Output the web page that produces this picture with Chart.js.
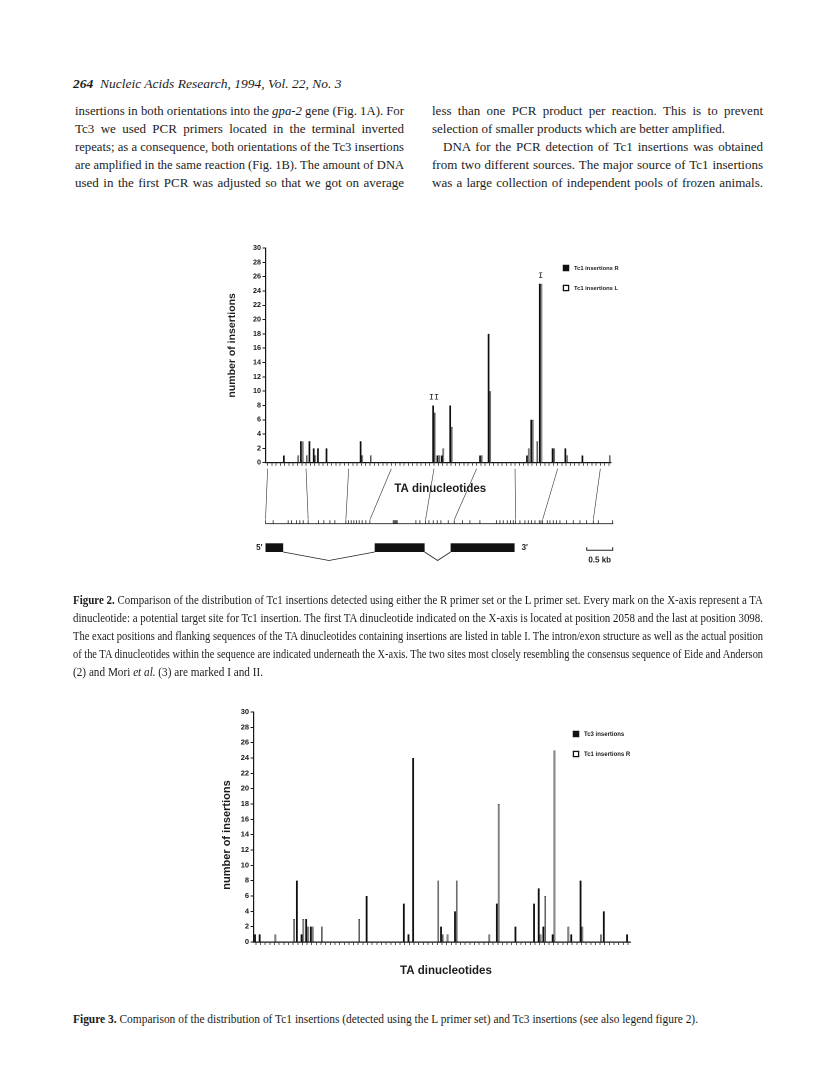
<!DOCTYPE html>
<html>
<head>
<meta charset="utf-8">
<script src="https://cdn.jsdelivr.net/npm/chart.js@4.4.1/dist/chart.umd.min.js"></script>
<style>
  html, body { margin:0; padding:0; background:#ffffff; }
  body { position:relative; width:816px; height:1070px; overflow:hidden;
         font-family:"Liberation Serif","Times New Roman",serif; color:#1b1b1b; }
  .ln { position:absolute; white-space:nowrap; line-height:18px; height:18px; transform-origin:0 50%; }
  .bt { font-size:13px; }
  .cap { font-size:12px; }
  canvas { position:absolute; }
</style>
</head>
<body>

<div class="ln" style="left:73px;top:75px;font-size:13.5px;font-style:italic;" data-w="286"><b>264</b>&nbsp; Nucleic Acids Research, 1994, Vol. 22, No. 3</div>

<div class="ln bt j" style="left:75px;top:102px;" data-w="329">insertions in both orientations into the <i>gpa-2</i> gene (Fig. 1A). For</div>
<div class="ln bt j" style="left:75px;top:120px;" data-w="329">Tc3 we used PCR primers located in the terminal inverted</div>
<div class="ln bt j" style="left:75px;top:138px;" data-w="329">repeats; as a consequence, both orientations of the Tc3 insertions</div>
<div class="ln bt j" style="left:75px;top:156px;" data-w="329">are amplified in the same reaction (Fig. 1B). The amount of DNA</div>
<div class="ln bt j" style="left:75px;top:174px;" data-w="329">used in the first PCR was adjusted so that we got on average</div>

<div class="ln bt j" style="left:432px;top:102px;" data-w="331">less than one PCR product per reaction. This is to prevent</div>
<div class="ln bt" style="left:432px;top:120px;" data-w="296">selection of smaller products which are better amplified.</div>
<div class="ln bt j" style="left:443px;top:138px;" data-w="320">DNA for the PCR detection of Tc1 insertions was obtained</div>
<div class="ln bt j" style="left:432px;top:156px;" data-w="331">from two different sources. The major source of Tc1 insertions</div>
<div class="ln bt j" style="left:432px;top:174px;" data-w="331">was a large collection of independent pools of frozen animals.</div>

<canvas id="fig2" width="440" height="420" style="left:200px;top:200px;"></canvas>

<div class="ln cap j" style="left:73px;top:591px;" data-w="690"><b>Figure 2.</b> Comparison of the distribution of Tc1 insertions detected using either the R primer set or the L primer set. Every mark on the X-axis represent a TA</div>
<div class="ln cap j" style="left:73px;top:609px;" data-w="690">dinucleotide: a potential target site for Tc1 insertion. The first TA dinucleotide indicated on the X-axis is located at position 2058 and the last at position 3098.</div>
<div class="ln cap j" style="left:73px;top:627px;" data-w="690">The exact positions and flanking sequences of the TA dinucleotides containing insertions are listed in table I. The intron/exon structure as well as the actual position</div>
<div class="ln cap j" style="left:73px;top:645px;" data-w="690">of the TA dinucleotides within the sequence are indicated underneath the X-axis. The two sites most closely resembling the consensus sequence of Eide and Anderson</div>
<div class="ln cap" style="left:73px;top:663px;" data-w="190">(2) and Mori <i>et al.</i> (3) are marked I and II.</div>

<canvas id="fig3" width="455" height="320" style="left:195px;top:670px;"></canvas>

<div class="ln cap" style="left:73px;top:1010px;" data-w="625"><b>Figure 3.</b> Comparison of the distribution of Tc1 insertions (detected using the L primer set) and Tc3 insertions (see also legend figure 2).</div>

<script>
// ---------------- data ----------------
// 81 TA dinucleotides on the X-axis (index 0..80)
const taSites = Array.from({length: 81}, (_, i) => String(i + 1));

// Figure 2 : Tc1 insertions, R primer set (black)
const fig2R_sites  = [4, 8, 10, 11, 12, 14, 22, 39, 40, 41, 43, 50, 52, 61, 62, 64, 67, 70, 74];
const fig2R_counts = [1, 3,  3,  2,  2,  2,  3,  8,  1,  1,  8,  1, 18,  1,  6, 25,  2,  2,  1];

// Figure 2 : Tc1 insertions, L primer set (white)
const fig2L_sites  = [7, 8, 9, 11, 22, 24, 39, 40, 41, 43, 50, 52, 61, 62, 63, 64, 67, 70, 80];
const fig2L_counts = [1, 3, 1,  1,  1,  1,  7,  1,  2,  5,  1, 10,  2,  6,  3, 25,  2,  1,  1];

// Figure 3 : Tc3 insertions (black)
const fig3Tc3_sites  = [0, 1, 9, 10, 11, 12, 24, 32, 33, 34, 40, 43, 52, 56, 60, 61, 62, 64, 68, 70, 75, 80];
const fig3Tc3_counts = [1, 1, 8,  1,  3,  2,  6,  5,  1, 24,  2,  4,  5,  2,  5,  7,  2,  1,  1,  8,  4,  1];

// Figure 3 : Tc1 insertions R (white)
const fig3Tc1_sites  = [4, 8, 10, 11, 12, 14, 22, 39, 40, 41, 43, 50, 52, 61, 62, 64, 67, 70, 74];
const fig3Tc1_counts = [1, 3,  3,  2,  2,  2,  3,  8,  1,  1,  8,  1, 18,  1,  6, 25,  2,  2,  1];

const yTicks = [0, 2, 4, 6, 8, 10, 12, 14, 16, 18, 20, 22, 24, 26, 28, 30];

// Sites marked I and II (consensus-like sites)
const markedSites = [{site: 64, value: 25, label: 'I'}, {site: 39, value: 8, label: 'II'}];

// Schematic below Fig. 2: TA positions along the sequence map (map units 0..1043)
const taMapUnits = [0, 23, 68, 78, 93, 103, 113, 128, 159, 175, 193, 208, 241, 249, 257, 265, 273, 281,
  290, 301, 313, 383, 386, 389, 392, 395, 451, 463, 480, 490, 503, 515, 526, 548, 566, 591, 613, 643,
  693, 703, 713, 725, 735, 743, 750, 763, 778, 788, 798, 808, 821, 826, 831, 845, 853, 863, 873, 883,
  903, 923, 943, 963, 983, 998, 1041];
// links: X-axis TA index -> map unit
const mapLinksSite = [0, 9, 19, 29, 39, 49, 58, 68, 78];
const mapLinksUnit = [0, 128, 241, 313, 480, 566, 750, 831, 983];
// exon structure in kb from gene start
const exonStartKb = [0.00, 2.10, 3.56];
const exonEndKb   = [0.34, 3.06, 4.79];

// ---------------- helpers ----------------
function toSeries(sites, counts) {
  const arr = taSites.map(() => 0);
  sites.forEach((s, i) => { arr[s] = counts[i]; });
  return arr;
}
const SANS = '"Liberation Sans", Arial, Helvetica, sans-serif';
const INK = '#1b1b1b';

function yTitle(ctx, text, x, y, size) {
  ctx.save();
  ctx.translate(x, y);
  ctx.rotate(-Math.PI / 2);
  ctx.font = 'bold ' + size + 'px ' + SANS;
  ctx.fillStyle = INK;
  ctx.textAlign = 'center';
  ctx.textBaseline = 'middle';
  ctx.fillText(text, 0, 0);
  ctx.restore();
}
function legendItem(ctx, x, y, filled, text, size) {
  const s = 6.5;
  ctx.save();
  if (filled) { ctx.fillStyle = '#111'; ctx.fillRect(x - s / 2, y - s / 2, s, s); }
  else { ctx.fillStyle = '#fff'; ctx.fillRect(x - s / 2, y - s / 2, s, s);
         ctx.strokeStyle = '#111'; ctx.lineWidth = 1.3; ctx.strokeRect(x - s / 2 + 0.65, y - s / 2 + 0.65, s - 1.3, s - 1.3); }
  ctx.font = 'bold ' + size + 'px ' + SANS;
  ctx.fillStyle = INK;
  ctx.textAlign = 'left';
  ctx.textBaseline = 'middle';
  ctx.fillText(text, x + 8, y + 0.5);
  ctx.restore();
}

const fig2Extras = {
  id: 'fig2Extras',
  afterDraw(chart) {
    const {ctx, chartArea: ca, scales: {x, y}} = chart;
    yTitle(ctx, 'number of insertions', 32, (ca.top + ca.bottom) / 2 - 10, 10.5);
    legendItem(ctx, 366, 68, true, 'Tc1 insertions R', 5.8);
    legendItem(ctx, 366, 88, false, 'Tc1 insertions L', 5.8);

    ctx.save();
    ctx.font = '8.5px "Liberation Mono", "DejaVu Sans Mono", monospace';
    ctx.fillStyle = INK; ctx.textAlign = 'center'; ctx.textBaseline = 'bottom';
    markedSites.forEach(m => ctx.fillText(m.label, x.getPixelForValue(m.site), y.getPixelForValue(m.value) - 4));
    ctx.restore();

    // TA dinucleotides title
    ctx.save();
    ctx.font = 'bold 11.5px ' + SANS; ctx.fillStyle = INK;
    ctx.textAlign = 'center'; ctx.textBaseline = 'middle';
    ctx.fillText('TA dinucleotides', (ca.left + ca.right) / 2 + 2, ca.bottom + 26);
    ctx.restore();

    // sequence map
    const mapL = ca.left, mapR = ca.right + 2.3, mapY = ca.bottom + 61;
    const mx = u => mapL + u / 1043 * (mapR - mapL);
    ctx.save();
    ctx.strokeStyle = '#222'; ctx.lineWidth = 0.9;
    ctx.beginPath(); ctx.moveTo(mapL, mapY); ctx.lineTo(mapR, mapY); ctx.stroke();
    ctx.lineWidth = 0.8;
    taMapUnits.forEach(u => { ctx.beginPath(); ctx.moveTo(mx(u), mapY); ctx.lineTo(mx(u), mapY - 3.5); ctx.stroke(); });
    ctx.lineWidth = 0.6; ctx.strokeStyle = '#333';
    mapLinksSite.forEach((s, i) => {
      ctx.beginPath();
      ctx.moveTo(x.getPixelForValue(s), ca.bottom + 6);
      ctx.lineTo(mx(mapLinksUnit[i]), mapY - 4);
      ctx.stroke();
    });
    ctx.restore();

    // exon / intron structure
    const pxPerKb = 52;
    const gx = kb => mapL + kb * pxPerKb;
    const bTop = ca.bottom + 80.6, bBot = ca.bottom + 89.3;
    ctx.save();
    ctx.fillStyle = '#111';
    exonStartKb.forEach((s, i) => ctx.fillRect(gx(s), bTop, gx(exonEndKb[i]) - gx(s), bBot - bTop));
    ctx.strokeStyle = '#222'; ctx.lineWidth = 0.8;
    for (let i = 0; i < exonStartKb.length - 1; i++) {
      const a = gx(exonEndKb[i]), b = gx(exonStartKb[i + 1]);
      ctx.beginPath(); ctx.moveTo(a, bBot); ctx.lineTo((a + b) / 2, bBot + 8.5); ctx.lineTo(b, bBot); ctx.stroke();
    }
    ctx.font = 'bold 8px ' + SANS; ctx.fillStyle = INK; ctx.textBaseline = 'middle';
    ctx.textAlign = 'right'; ctx.fillText("5'", gx(0) - 3, (bTop + bBot) / 2);
    ctx.textAlign = 'left'; ctx.fillText("3'", gx(exonEndKb[2]) + 7, (bTop + bBot) / 2);
    // 0.5 kb scale bar
    const sb0 = 386.7, sb1 = sb0 + 0.5 * pxPerKb, sbY = ca.bottom + 87.5;
    ctx.lineWidth = 1;
    ctx.beginPath(); ctx.moveTo(sb0, sbY - 3); ctx.lineTo(sb0, sbY); ctx.lineTo(sb1, sbY); ctx.lineTo(sb1, sbY - 3); ctx.stroke();
    ctx.textAlign = 'center'; ctx.font = 'bold 8px ' + SANS;
    ctx.fillText('0.5 kb', (sb0 + sb1) / 2, sbY + 10);
    ctx.restore();
  }
};

const fig3Extras = {
  id: 'fig3Extras',
  afterDraw(chart) {
    const {ctx, chartArea: ca} = chart;
    yTitle(ctx, 'number of insertions', 32, (ca.top + ca.bottom) / 2 + 8, 11);
    legendItem(ctx, 381, 64, true, 'Tc3 insertions', 6);
    legendItem(ctx, 381, 84, false, 'Tc1 insertions R', 6);
    ctx.save();
    ctx.font = 'bold 11.5px ' + SANS; ctx.fillStyle = INK;
    ctx.textAlign = 'center'; ctx.textBaseline = 'middle';
    ctx.fillText('TA dinucleotides', (ca.left + ca.right) / 2 + 4, ca.bottom + 29);
    ctx.restore();
  }
};

function makeChart(id, dsBlack, dsWhite, geom, extras) {
  return new Chart(document.getElementById(id), {
    type: 'bar',
    data: {
      labels: taSites,
      datasets: [
        {label: dsBlack.label, data: dsBlack.data, backgroundColor: '#0e0e0e', borderWidth: 0,
         categoryPercentage: geom.cat, barPercentage: 1.0},
        {label: dsWhite.label, data: dsWhite.data, backgroundColor: '#7a7a7a', borderColor: '#2a2a2a', borderWidth: 0.5,
         categoryPercentage: geom.cat, barPercentage: 1.0}
      ]
    },
    options: {
      responsive: false, animation: false, devicePixelRatio: 2,
      layout: {padding: {left: 0, right: geom.right, top: geom.top, bottom: geom.bottom}},
      plugins: {legend: {display: false}, tooltip: {enabled: false}},
      scales: {
        x: {
          offset: true,
          grid: {drawOnChartArea: false, drawTicks: true, tickLength: 3, color: '#2e2e2e', lineWidth: 0.8, offset: false},
          border: {display: true, color: '#161616', width: 1.2},
          ticks: {display: false, autoSkip: false},
          afterFit: s => { s.height = 4; }
        },
        y: {
          min: 0, max: 30,
          afterBuildTicks: s => { s.ticks = yTicks.map(v => ({value: v})); },
          ticks: {font: {family: SANS, size: geom.tickFont, weight: 'bold'}, color: INK, padding: 1.5},
          grid: {drawOnChartArea: false, drawTicks: true, tickLength: 3, color: '#161616', lineWidth: 1},
          border: {display: true, color: '#161616', width: 1.2},
          afterFit: s => { s.width = geom.yw; }
        }
      }
    },
    plugins: [extras]
  });
}

makeChart('fig2',
  {label: 'Tc1 insertions R', data: toSeries(fig2R_sites, fig2R_counts)},
  {label: 'Tc1 insertions L', data: toSeries(fig2L_sites, fig2L_counts)},
  {cat: 0.8, right: 29, top: 48, bottom: 153.3, yw: 65.5, tickFont: 7.2},
  fig2Extras);

makeChart('fig3',
  {label: 'Tc3 insertions', data: toSeries(fig3Tc3_sites, fig3Tc3_counts)},
  {label: 'Tc1 insertions R', data: toSeries(fig3Tc1_sites, fig3Tc1_counts)},
  {cat: 0.78, right: 19.7, top: 42, bottom: 44, yw: 58.6, tickFont: 7.5},
  fig3Extras);

// ------------- fit text lines to their column widths -------------
document.querySelectorAll('.ln').forEach(el => {
  const target = parseFloat(el.dataset.w || 0);
  if (!target) return;
  const w = el.getBoundingClientRect().width;
  if (w > target) {
    el.style.transform = 'scaleX(' + (target / w).toFixed(4) + ')';
  } else if (el.classList.contains('j')) {
    const spaces = (el.textContent.match(/ /g) || []).length;
    if (spaces) el.style.wordSpacing = ((target - w) / spaces).toFixed(3) + 'px';
  }
});
</script>
</body>
</html>
